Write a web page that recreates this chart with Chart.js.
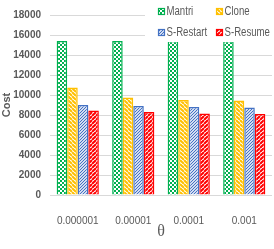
<!DOCTYPE html>
<html>
<head>
<meta charset="utf-8">
<script src="https://cdn.jsdelivr.net/npm/chart.js@4.4.0/dist/chart.umd.min.js"></script>
<style>
  html, body { margin: 0; padding: 0; background: #fff; }
  #wrap { width: 274px; height: 249px; }
</style>
</head>
<body>
<div id="wrap"><canvas id="c" width="274" height="249"></canvas></div>
<script>
// θ 값별 비용
const THETA     = ['0.000001', '0.00001', '0.0001', '0.001'];
const SERIES    = ['Mantri', 'Clone', 'S-Restart', 'S-Resume'];
const MANTRI    = [15400, 15400, 15400, 15400];
const CLONE     = [10750, 9750, 9500, 9450];
const S_RESTART = [9000, 8900, 8800, 8750];
const S_RESUME  = [8450, 8300, 8150, 8100];
const Y_TICKS   = [0, 2000, 4000, 6000, 8000, 10000, 12000, 14000, 16000, 18000];

const COLORS = ['#00B050', '#FFC000', '#4472C4', '#FF0000'];
const GRAY = '#595959';

// ── 패턴 ──
function makePattern(kind, color) {
  const c = document.createElement('canvas');
  const ctx = c.getContext('2d');
  if (kind === 'checker') {
    c.width = c.height = 4;
    ctx.fillStyle = '#fff'; ctx.fillRect(0, 0, 4, 4);
    ctx.fillStyle = color;
    ctx.fillRect(0, 0, 2, 2); ctx.fillRect(2, 2, 2, 2);
  } else if (kind === 'dots') {
    c.width = c.height = 3;
    ctx.fillStyle = '#d3ddf1'; ctx.fillRect(0, 0, 3, 3);
    ctx.fillStyle = color;
    ctx.fillRect(0, 0, 1, 1); ctx.fillRect(1, 2, 1, 1); ctx.fillRect(2, 1, 1, 1);
  } else {
    // 'back' = \\\ , 'fwd' = ///
    c.width = c.height = 4;
    ctx.fillStyle = '#fff'; ctx.fillRect(0, 0, 4, 4);
    ctx.strokeStyle = color; ctx.lineWidth = 2;
    for (let o = -8; o <= 8; o += 4) {
      ctx.beginPath();
      if (kind === 'back') { ctx.moveTo(o, 0); ctx.lineTo(o + 4, 4); }
      else { ctx.moveTo(o + 4, 0); ctx.lineTo(o, 4); }
      ctx.stroke();
    }
  }
  return c;
}

const c0 = document.getElementById('c').getContext('2d');
const KINDS = ['checker', 'back', 'dots', 'fwd'];
const PATS = KINDS.map((k, i) => c0.createPattern(makePattern(k, COLORS[i]), 'repeat'));
const DATA = [MANTRI, CLONE, S_RESTART, S_RESUME];

// ── 범례 (플롯 안쪽 오른쪽 위) ──
const legendPlugin = {
  id: 'cornerLegend',
  afterDatasetsDraw(chart) {
    const ctx = chart.ctx;
    ctx.save();
    ctx.fillStyle = '#fff';
    ctx.fillRect(145, 15, 127, 27);
    const pos = [[158, 11], [216, 11], [158, 32], [216, 32]];
    ctx.font = '12.5px "Liberation Sans", sans-serif';
    ctx.textBaseline = 'middle';
    SERIES.forEach((name, i) => {
      const [x, y] = pos[i];
      ctx.fillStyle = PATS[i];
      ctx.fillRect(x, y - 3, 7, 7);
      ctx.strokeStyle = COLORS[i]; ctx.lineWidth = 1.2;
      ctx.strokeRect(x + 0.5, y - 2.5, 6, 6);
      ctx.fillStyle = GRAY;
      // 좁은 글꼴 느낌으로 가로 압축
      ctx.save();
      ctx.translate(x + 8.5, y + 1);
      ctx.scale(0.77, 1);
      ctx.fillText(name, 0, 0);
      ctx.restore();
    });
    ctx.restore();
  }
};

new Chart(document.getElementById('c'), {
  type: 'bar',
  data: {
    labels: THETA,
    datasets: SERIES.map((name, i) => ({
      label: name,
      data: DATA[i],
      backgroundColor: PATS[i],
      borderColor: COLORS[i],
      borderWidth: 1.5,
      categoryPercentage: 0.76,
      barPercentage: 1.0,
    })),
  },
  options: {
    responsive: false,
    animation: false,
    layout: { padding: { top: 11, right: 2, left: 0, bottom: 0 } },
    plugins: { legend: { display: false }, tooltip: { enabled: false } },
    scales: {
      x: {
        grid: { display: false },
        border: { display: false },
        ticks: { color: GRAY, padding: 12, font: { family: '"Liberation Sans", sans-serif', size: 10 } },
        title: { display: true, text: 'θ', color: GRAY, padding: { top: 0, bottom: 8 },
                 font: { family: '"Liberation Serif", "DejaVu Serif", serif', size: 16 } },
        afterFit(s) { s.height = 54; },
      },
      y: {
        min: 0, max: 18000,
        afterBuildTicks(s) { s.ticks = Y_TICKS.map(v => ({ value: v })); },
        grid: { color: '#d9d9d9', drawTicks: false },
        border: { display: false },
        ticks: { color: GRAY, padding: 9, callback: v => String(v),
                 font: { family: '"Liberation Sans", sans-serif', size: 10, weight: 'bold' } },
        title: { display: true, text: 'Cost', color: GRAY, padding: 0,
                 font: { family: '"Liberation Sans", sans-serif', size: 11, weight: 'bold' } },
        afterFit(s) { s.width = 50; },
      },
    },
  },
  plugins: [legendPlugin],
});
</script>
</body>
</html>
